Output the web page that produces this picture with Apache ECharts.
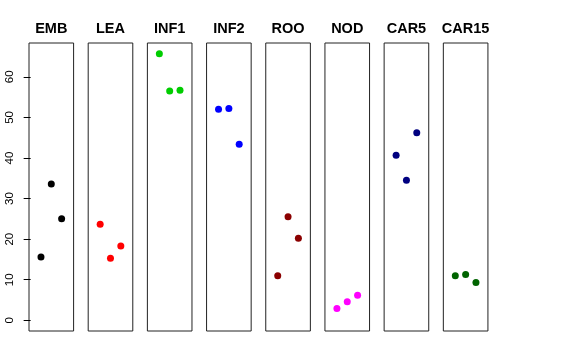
<!DOCTYPE html>
<html><head><meta charset="utf-8">
<script src="https://cdn.jsdelivr.net/npm/echarts@6/dist/echarts.min.js"></script>
<style>html,body{margin:0;padding:0;background:#fff}#c{width:576px;height:360px}</style>
</head><body><div id="c"></div>
<script>
const categories = ["EMB","LEA","INF1","INF2","ROO","NOD","CAR5","CAR15"];
const colors = ["#000000","#FF0000","#00CD00","#0000FF","#8B0000","#FF00FF","#000080","#006400"];
const values = [
  [15.6, 33.6, 25.0],
  [23.7, 15.3, 18.3],
  [65.7, 56.5, 56.7],
  [52.0, 52.2, 43.4],
  [11.0, 25.5, 20.2],
  [2.9, 4.55, 6.2],
  [40.7, 34.5, 46.2],
  [11.0, 11.3, 9.3]
];
const yTicks = [0,10,20,30,40,50,60];

(function(){
const chart = echarts.init(document.getElementById('c'), null, {renderer:'canvas'});
const grids=[], xAxes=[], yAxes=[], series=[], titles=[];
const left0 = 29, step = 59.19, w = 44.6, gTop = 43, gH = 288;
const yMin = -2.63, yMax = 68.33;
categories.forEach((cat,i)=>{
  const l = left0 + i*step;
  grids.push({left:l, top:gTop, width:w, height:gH, show:true, borderColor:'#222', borderWidth:1, backgroundColor:'transparent'});
  xAxes.push({gridIndex:i, type:'value', min:-0.16, max:4.16, show:false});
  yAxes.push({gridIndex:i, type:'value', min:yMin, max:yMax, show: i===0,
    axisLine:{show:false}, splitLine:{show:false},
    axisTick:{show:true, length:7, lineStyle:{color:'#000'}, customValues:yTicks},
    axisLabel:{show:true, rotate:90, fontSize:11.5, color:'#000', fontFamily:'Liberation Sans, Arial, sans-serif', margin:13, customValues:yTicks}
  });
  series.push({type:'scatter', xAxisIndex:i, yAxisIndex:i, symbolSize:7, itemStyle:{color:colors[i], opacity:1},
    data: values[i].map((v,j)=>[j+1, v])});
  titles.push({text:cat, left:l + w/2, top:21, textAlign:'center', padding:0,
    textStyle:{fontSize:14.5, fontWeight:'bold', color:'#000', fontFamily:'Liberation Sans, Arial, sans-serif'}});
});
chart.setOption({animation:false, title:titles, grid:grids, xAxis:xAxes, yAxis:yAxes, series:series});
})();
</script></body></html>
